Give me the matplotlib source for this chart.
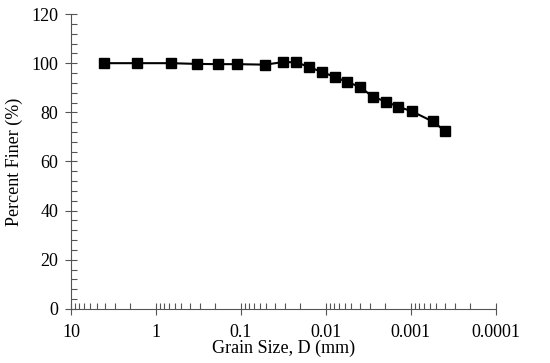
import numpy as np
import matplotlib
matplotlib.use("Agg")
import matplotlib.pyplot as plt
from matplotlib.ticker import FixedLocator, FixedFormatter, LogLocator, MultipleLocator, NullFormatter

# Grain size distribution
grain_size = [4.08, 1.66, 0.672, 0.326, 0.187, 0.110, 0.0524, 0.0322, 0.0224,
              0.0156, 0.0110, 0.00773, 0.00564, 0.00401, 0.00282, 0.00198,
              0.00140, 0.00097, 0.000553, 0.000397]
percent_finer = [100.0, 100.0, 100.0, 99.7, 99.6, 99.6, 99.4, 100.4, 100.4,
                 98.4, 96.3, 94.4, 92.3, 90.5, 86.4, 84.4, 82.3, 80.4, 76.3, 72.5]

x_ticks = [10, 1, 0.1, 0.01, 0.001, 0.0001]
x_tick_labels = ["10", "1", "0.1", "0.01", "0.001", "0.0001"]

plt.rcParams['font.family'] = ['Liberation Serif', 'DejaVu Serif']

fig = plt.figure(figsize=(5.5, 3.63), dpi=100)
ax = fig.add_axes([0.1290, 0.1488, 0.9013 - 0.1290, 0.9614 - 0.1488])

ax.plot(grain_size, percent_finer, color='black', linewidth=1.5,
        marker='s', markersize=7.5, markerfacecolor='black', markeredgecolor='black')

ax.set_xscale('log')
ax.set_xlim(10, 0.0001)
ax.set_ylim(0, 120)

ax.xaxis.set_major_locator(FixedLocator(x_ticks))
ax.xaxis.set_major_formatter(FixedFormatter(x_tick_labels))
ax.xaxis.set_minor_locator(LogLocator(base=10, subs=np.arange(2, 10)))
ax.xaxis.set_minor_formatter(NullFormatter())
ax.yaxis.set_major_locator(MultipleLocator(20))
ax.yaxis.set_minor_locator(MultipleLocator(4))

ax.tick_params(which='major', direction='inout', length=8, width=0.8, labelsize=13,
               colors='#555555', labelcolor='black')
ax.tick_params(which='minor', direction='in', length=4, width=0.8, colors='#555555')
ax.tick_params(axis='y', which='major', pad=5)
ax.tick_params(axis='x', which='major', pad=7)

ax.spines['top'].set_visible(False)
ax.spines['right'].set_visible(False)
for s in ['left', 'bottom']:
    ax.spines[s].set_linewidth(0.8)
    ax.spines[s].set_color('#555555')

ax.set_xlabel("Grain Size, D (mm)", fontsize=13, labelpad=-1)
ax.set_ylabel("Percent Finer (%)", fontsize=13, labelpad=6)

fig.savefig("out.png", dpi=100)
